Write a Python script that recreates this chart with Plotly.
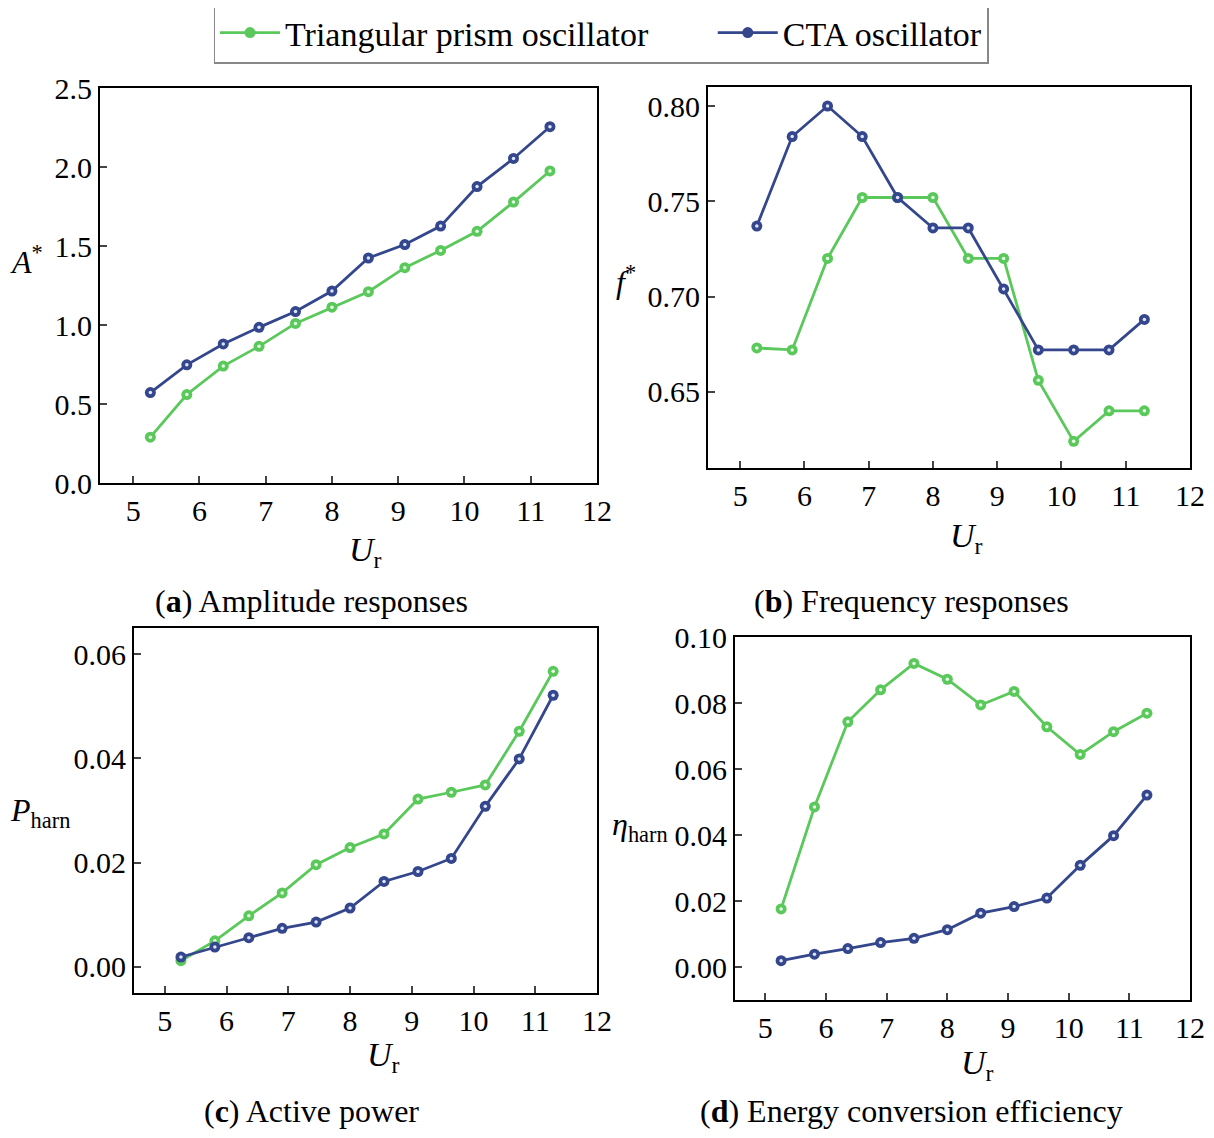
import plotly.graph_objects as go

# reduced velocity (shared by all four panels)
ur = [5.26, 5.81, 6.36, 6.90, 7.45, 8.00, 8.55, 9.10, 9.64, 10.19, 10.74, 11.29]

# (a) amplitude
amp_tri = [0.29, 0.56, 0.74, 0.865, 1.01, 1.113, 1.211, 1.363, 1.472, 1.593, 1.778, 1.975]
amp_cta = [0.572, 0.748, 0.880, 0.985, 1.085, 1.215, 1.424, 1.509, 1.626, 1.876, 2.054, 2.255]

# (b) frequency
freq_tri = [0.673, 0.672, 0.720, 0.752, 0.752, 0.752, 0.720, 0.720, 0.656, 0.624, 0.640, 0.640]
freq_cta = [0.737, 0.784, 0.800, 0.784, 0.752, 0.736, 0.736, 0.704, 0.672, 0.672, 0.672, 0.688]

# (c) active power
pow_tri = [0.0012, 0.0050, 0.0098, 0.0142, 0.0196, 0.0229, 0.0255, 0.0322, 0.0335, 0.0349, 0.0452, 0.0567]
pow_cta = [0.0019, 0.0038, 0.0056, 0.0074, 0.0086, 0.0113, 0.0164, 0.0183, 0.0208, 0.0308, 0.0399, 0.0521]

# (d) energy conversion efficiency
eff_tri = [0.0176, 0.0485, 0.0743, 0.0840, 0.0920, 0.0872, 0.0794, 0.0835, 0.0728, 0.0644, 0.0713, 0.0769]
eff_cta = [0.0019, 0.0039, 0.0056, 0.0074, 0.0087, 0.0113, 0.0163, 0.0183, 0.0209, 0.0308, 0.0398, 0.0521]

names = ["Triangular prism oscillator" + "\u00a0" * 7, "CTA oscillator"]
green = "#5ac85a"
blue = "#34468c"
hl = {green: "#e6ffe6", blue: "#dde4ff"}

FONT = "Liberation Serif"
W, H = 1214, 1138
OFF = 8  # page body margin


def px(x):
    return (x - OFF) / W


def py(y):
    return 1 - (y - OFF) / H


panels = [
    # data, x domain px, y domain px (top, bottom), yrange, ticks, fmt
    ((amp_tri, amp_cta), (100, 597), (88, 483), [0, 2.5], [0, 0.5, 1.0, 1.5, 2.0, 2.5], ".1f"),
    ((freq_tri, freq_cta), (708, 1190), (87, 468), [0.61, 0.81], [0.65, 0.70, 0.75, 0.80], ".2f"),
    ((pow_tri, pow_cta), (134, 597), (628, 993), [-0.005, 0.065], [0, 0.02, 0.04, 0.06], ".2f"),
    ((eff_tri, eff_cta), (735, 1190), (637, 1000), [-0.01, 0.10], [0, 0.02, 0.04, 0.06, 0.08, 0.10], ".2f"),
]

fig = go.Figure()
layout = {}

for i, (series, (x0, x1), (yt, yb), yr, yt_vals, fmt) in enumerate(panels):
    n = "" if i == 0 else str(i + 1)
    xa, ya = "x" + n, "y" + n
    for vals, col, name in zip(series, (green, blue), names):
        fig.add_trace(go.Scatter(
            x=ur, y=vals, mode="lines+markers", name=name,
            line=dict(color=col, width=2.8),
            marker=dict(size=11, color=col),
            xaxis=xa, yaxis=ya, showlegend=(i == 0),
        ))
        # small light spot in the middle of each marker
        fig.add_trace(go.Scatter(
            x=ur, y=vals, mode="markers",
            marker=dict(size=3.5, color=hl[col]),
            xaxis=xa, yaxis=ya, showlegend=False, hoverinfo="skip",
        ))
    layout["xaxis" + n] = dict(
        domain=[px(x0), px(x1)], anchor=ya, range=[4.5, 12],
        tickvals=[5, 6, 7, 8, 9, 10, 11, 12], ticks="inside", ticklen=7, tickwidth=2,
        showline=True, linewidth=2, linecolor="black", mirror=True,
        showgrid=False, zeroline=False,
        tickfont=dict(family=FONT, size=30, color="black"),
    )
    layout["yaxis" + n] = dict(
        domain=[py(yb), py(yt)], anchor=xa, range=yr,
        tickvals=yt_vals, tickformat=fmt, ticks="inside", ticklen=7, tickwidth=2,
        showline=True, linewidth=2, linecolor="black", mirror=True,
        showgrid=False, zeroline=False,
        tickfont=dict(family=FONT, size=30, color="black"),
    )

ann = []


def label(text, x, y, size):
    ann.append(dict(text=text, x=px(x), y=py(y), xref="paper", yref="paper",
                    xanchor="center", yanchor="middle", showarrow=False,
                    font=dict(family=FONT, size=size, color="black")))


# y axis titles (horizontal)
label("<i>A</i><sup>*</sup>", 26, 260, 32)
label("<i>f</i><sup>*</sup>", 626, 280, 32)
label("<i>P</i><sub>harn</sub>", 40, 812, 32)
label("<i>η</i><sub>harn</sub>", 640, 826, 32)
# x axis titles
for x, y in [(365, 552), (966, 538), (383, 1057), (977, 1065)]:
    label("<i>U</i><sub>r</sub>", x, y, 34)
# captions
label("(<b>a</b>) Amplitude responses", 311, 601, 32)
label("(<b>b</b>) Frequency responses", 911, 601, 32)
label("(<b>c</b>) Active power", 311, 1111, 32)
label("(<b>d</b>) Energy conversion efficiency", 911, 1111, 32)

fig.update_layout(
    width=W, height=H, margin=dict(l=0, r=0, t=0, b=0, autoexpand=False),
    paper_bgcolor="white", plot_bgcolor="white",
    annotations=ann,
    legend=dict(
        orientation="h", x=px(601), y=py(33), xanchor="center", yanchor="middle",
        bordercolor="#888888", borderwidth=1.5,
        font=dict(family=FONT, size=34, color="black"),
        itemwidth=60,
    ),
    **layout,
)

fig.write_html("out.html")
